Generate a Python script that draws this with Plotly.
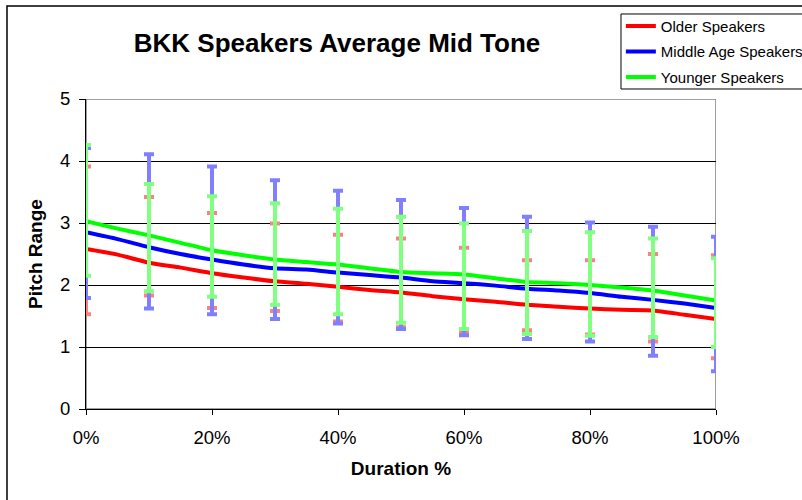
import plotly.graph_objects as go

# Duration points (percent of tone duration)
duration = [0, 5, 10, 15, 20, 25, 30, 35, 40, 45, 50, 55, 60, 65, 70, 75, 80, 85, 90, 95, 100]

# Average pitch range per speaker group
older = [2.58, 2.49, 2.36, 2.28, 2.19, 2.12, 2.06, 2.02, 1.97, 1.92, 1.88,
         1.82, 1.77, 1.73, 1.68, 1.65, 1.62, 1.60, 1.59, 1.52, 1.45]
middle = [2.85, 2.74, 2.61, 2.50, 2.41, 2.33, 2.27, 2.25, 2.20, 2.16, 2.12,
          2.06, 2.03, 1.99, 1.94, 1.91, 1.87, 1.81, 1.76, 1.70, 1.63]
younger = [3.03, 2.91, 2.80, 2.68, 2.56, 2.48, 2.41, 2.37, 2.33, 2.27, 2.21,
           2.19, 2.17, 2.11, 2.05, 2.03, 2.00, 1.96, 1.91, 1.83, 1.75]

# Error bar extents, every 10 % of duration
err_x = [0, 10, 20, 30, 40, 50, 60, 70, 80, 90, 100]
older_hi = [3.91, 3.42, 3.16, 2.99, 2.81, 2.75, 2.60, 2.40, 2.40, 2.50, 2.48]
older_lo = [1.53, 1.83, 1.63, 1.58, 1.41, 1.32, 1.24, 1.27, 1.20, 1.09, 0.82]
middle_hi = [4.21, 4.11, 3.91, 3.69, 3.52, 3.37, 3.24, 3.10, 3.01, 2.94, 2.78]
middle_lo = [1.79, 1.62, 1.53, 1.45, 1.38, 1.29, 1.19, 1.13, 1.09, 0.86, 0.61]
younger_hi = [4.26, 3.63, 3.43, 3.32, 3.23, 3.10, 2.99, 2.87, 2.85, 2.75, 2.43]
younger_lo = [2.15, 1.90, 1.81, 1.68, 1.53, 1.39, 1.29, 1.21, 1.18, 1.16, 1.00]

series = [
    ("Older Speakers", older, older_hi, older_lo, "#ff0000", "#ff8080"),
    ("Middle Age Speakers", middle, middle_hi, middle_lo, "#0000ff", "#8080ff"),
    ("Younger Speakers", younger, younger_hi, younger_lo, "#00ff00", "#80ff80"),
]

FONT = "Liberation Sans, Arial, Helvetica, sans-serif"

fig = go.Figure()

for i, (name, vals, hi, lo, col, _) in enumerate(series):
    fig.add_trace(go.Scatter(
        x=duration, y=vals, name=name, mode="lines", legendgroup=f"g{i}",
        line=dict(color=col, width=4, shape="spline", smoothing=0.6),
    ))

for name, vals, hi, lo, _, ecol in series:
    centre = [vals[duration.index(x)] for x in err_x]
    plus = [h - c for h, c in zip(hi, centre)]
    minus = [c - l for l, c in zip(lo, centre)]
    fig.add_trace(go.Scatter(
        x=err_x, y=centre, mode="markers", showlegend=False, hoverinfo="skip",
        marker=dict(size=1, opacity=0),
        error_y=dict(type="data", symmetric=False, array=plus, arrayminus=minus,
                     color=ecol, thickness=4, width=5),
    ))

# plot-area frame (top and right edges)
fig.add_shape(type="rect", xref="x", yref="y", x0=0, x1=100, y0=0, y1=5,
              line=dict(color="#808080", width=1.5), layer="below")
# outer chart frame
fig.add_shape(type="rect", xref="paper", yref="paper",
              x0=-0.1254, x1=1.2, y0=-0.4, y1=1.3,
              line=dict(color="black", width=1.5))
# legend frame
fig.add_shape(type="rect", xref="paper", yref="paper",
              x0=0.8492, x1=1.2, y0=1.0323, y1=1.2742,
              line=dict(color="black", width=1), fillcolor="white")

fig.update_layout(
    width=802, height=500,
    margin=dict(l=86, r=86, t=99, b=91, autoexpand=False),
    paper_bgcolor="white", plot_bgcolor="white",
    font=dict(family=FONT, color="black"),
    title=dict(text="<b>BKK Speakers Average Mid Tone</b>",
               font=dict(size=26, family=FONT, color="black"),
               x=0.3985, xref="paper", xanchor="center",
               y=1 - 43 / 500, yref="container", yanchor="middle"),
    legend=dict(x=0.849, y=1.288, xanchor="left", yanchor="top",
                bgcolor="rgba(0,0,0,0)", borderwidth=0,
                font=dict(size=15, family=FONT, color="black"),
                traceorder="grouped", tracegroupgap=3),
    showlegend=True,
)

fig.update_xaxes(
    range=[0, 100], tickmode="linear", tick0=0, dtick=20, ticksuffix="%",
    showgrid=False, zeroline=False, showline=True, linecolor="black", linewidth=1,
    ticks="outside", ticklen=5, tickcolor="black", ticklabelstandoff=7,
    tickfont=dict(size=18.5, family=FONT),
    title=dict(text="<b>Duration %</b>", font=dict(size=19, family=FONT), standoff=14),
)
fig.update_yaxes(
    range=[0, 5], tickmode="linear", tick0=0, dtick=1,
    showgrid=True, gridcolor="black", gridwidth=1, zeroline=False,
    showline=True, linecolor="black", linewidth=1,
    ticks="outside", ticklen=6, tickcolor="black", ticklabelstandoff=5,
    tickfont=dict(size=18.5, family=FONT),
    title=dict(text="<b>Pitch Range</b>", font=dict(size=19, family=FONT), standoff=12),
)

fig.write_html("out.html")
